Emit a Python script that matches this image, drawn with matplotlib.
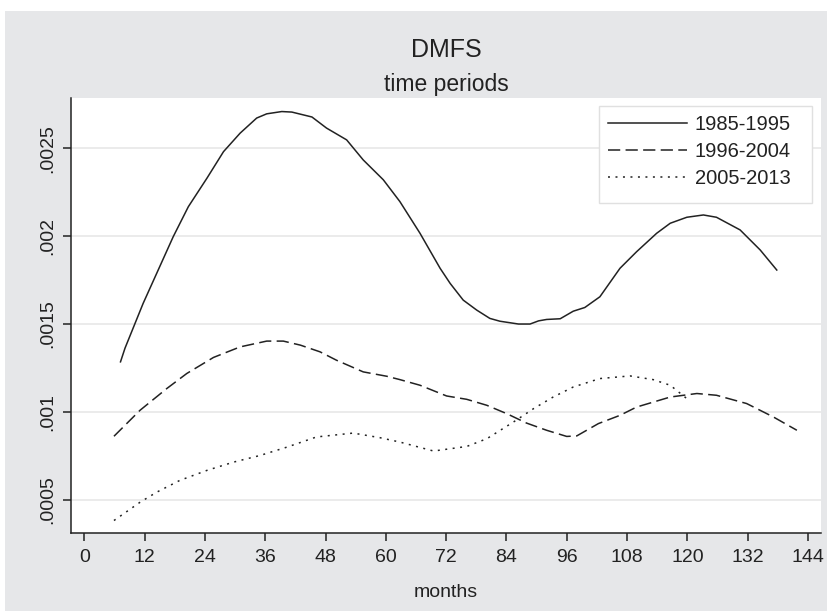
import matplotlib
matplotlib.use("Agg")
import matplotlib.pyplot as plt
from matplotlib.patches import Rectangle

plt.rcParams['font.family'] = ['Liberation Sans', 'DejaVu Sans']

# smoothed hazard curves
m_8595 = [7.2, 8.1, 11.7, 14.4, 17.7, 20.7, 24.4, 27.7, 31.0, 34.3, 36.3, 39.3,
          41.3, 45.3, 48.2, 52.2, 55.5, 59.5, 62.8, 66.8, 70.8, 72.8, 75.4, 78.1,
          80.7, 82.7, 86.4, 88.7, 90.4, 92.0, 94.7, 97.3, 99.6, 102.6, 106.6,
          109.9, 113.9, 116.6, 119.9, 123.2, 125.8, 130.5, 134.5, 137.8]
h_8595 = [.001285, .001363, .001617, .001788, .001997, .002167, .002329, .00248,
          .002585, .002671, .002695, .002708, .002705, .002677, .002614, .002547,
          .002433, .00232, .002196, .002016, .001817, .001731, .001636, .001579,
          .001532, .001516, .0015, .0015, .001518, .001526, .00153, .001573,
          .001594, .001655, .001817, .001911, .002016, .002073, .002107, .00212,
          .002107, .002035, .001921, .001807]

m_9604 = [5.9, 11.1, 16.4, 20.4, 25.7, 31.0, 36.3, 39.6, 43.0, 46.9, 50.2, 55.5,
          60.2, 62.8, 66.8, 72.1, 76.1, 80.1, 84.1, 88.0, 92.0, 96.0, 98.0, 102.3,
          106.6, 109.9, 116.6, 121.9, 125.8, 131.8, 137.1, 141.8]
h_9604 = [.000862, .00101, .001133, .001219, .00131, .00137, .001403, .001403,
          .00138, .001342, .001294, .001228, .001203, .001184, .001152, .001091,
          .001072, .001038, .00099, .000937, .000896, .000861, .000864, .000934,
          .000981, .001028, .001085, .001105, .001095, .001048, .000972, .000896]

m_0513 = [5.9, 11.1, 14.4, 19.0, 24.4, 29.7, 35.0, 40.3, 46.2, 53.5, 58.8, 62.8,
          69.5, 76.1, 80.1, 85.4, 89.4, 93.3, 97.3, 102.6, 108.6, 113.2, 116.6, 119.9]
h_0513 = [.000383, .000487, .000544, .000611, .000668, .000715, .000753, .0008,
          .000858, .00088, .000854, .000829, .000778, .000804, .000848, .000943,
          .001019, .001085, .001142, .00119, .001205, .001184, .001152, .001076]

x_ticks = list(range(0, 145, 12))
y_ticks = [.0005, .001, .0015, .002, .0025]
y_labels = ['.0005', '.001', '.0015', '.002', '.0025']

W, H = 828, 611
fig = plt.figure(figsize=(W / 100, H / 100), dpi=100)
fig.patch.set_facecolor('white')
fig.patches.append(Rectangle((5 / W, 0), 1, 1 - 11 / H, transform=fig.transFigure,
                             facecolor='#e6e7e9', edgecolor='none', zorder=-10))

ax = fig.add_axes([71 / W, 78 / H, 750 / W, 435 / H])
ax.set_facecolor('white')

ink = '#222222'
ax.plot(m_8595, h_8595, color=ink, lw=1.1, label='1985-1995')
ax.plot(m_9604, h_9604, color=ink, lw=1.1, dashes=(8, 3.5), label='1996-2004')
ax.plot(m_0513, h_0513, color=ink, lw=1.1, dashes=(1.3, 3.6), label='2005-2013')

ax.set_xlim(-2.65, 146.6)
ax.set_ylim(.000312, .002785)
ax.set_xticks(x_ticks)
ax.set_xticklabels([str(t) for t in x_ticks])
ax.set_yticks(y_ticks)
ax.set_yticklabels(y_labels, rotation=90, va='center')
ax.grid(axis='y', color='#e8e8e8', lw=1.2)
ax.set_axisbelow(True)

for s in ['top', 'right']:
    ax.spines[s].set_visible(False)
for s in ['left', 'bottom']:
    ax.spines[s].set_color(ink)
    ax.spines[s].set_linewidth(1.1)
ax.tick_params(axis='both', length=5.8, width=1.1, color=ink, labelcolor=ink,
               labelsize=14, direction='out')
ax.tick_params(axis='x', pad=6)
ax.tick_params(axis='y', pad=5)

fig.text(446 / W, 1 - 57 / H, 'DMFS', ha='center', va='baseline', fontsize=18, color=ink)
fig.text(446 / W, 1 - 91 / H, 'time periods', ha='center', va='baseline', fontsize=16.5, color=ink)
fig.text(446 / W, 1 - 597 / H, 'months', ha='center', va='baseline', fontsize=14, color=ink)

# legend box drawn separately (stata pads the right side more)
ax.add_patch(Rectangle((599 / W, 1 - 203 / H), 213 / W, 97 / H,
                       transform=fig.transFigure, facecolor='white',
                       edgecolor='#e0e0e0', lw=1.0, zorder=5, clip_on=False))
leg = ax.legend(loc='upper left', bbox_to_anchor=(599 / W, 1 - 106 / H),
                bbox_transform=fig.transFigure, fontsize=14.5, frameon=False,
                handlelength=3.9, handletextpad=0.4,
                labelspacing=0.4, borderpad=0.45, borderaxespad=0)
leg.set_zorder(6)
for t in leg.get_texts():
    t.set_color(ink)

fig.savefig('out.png', dpi=100)
